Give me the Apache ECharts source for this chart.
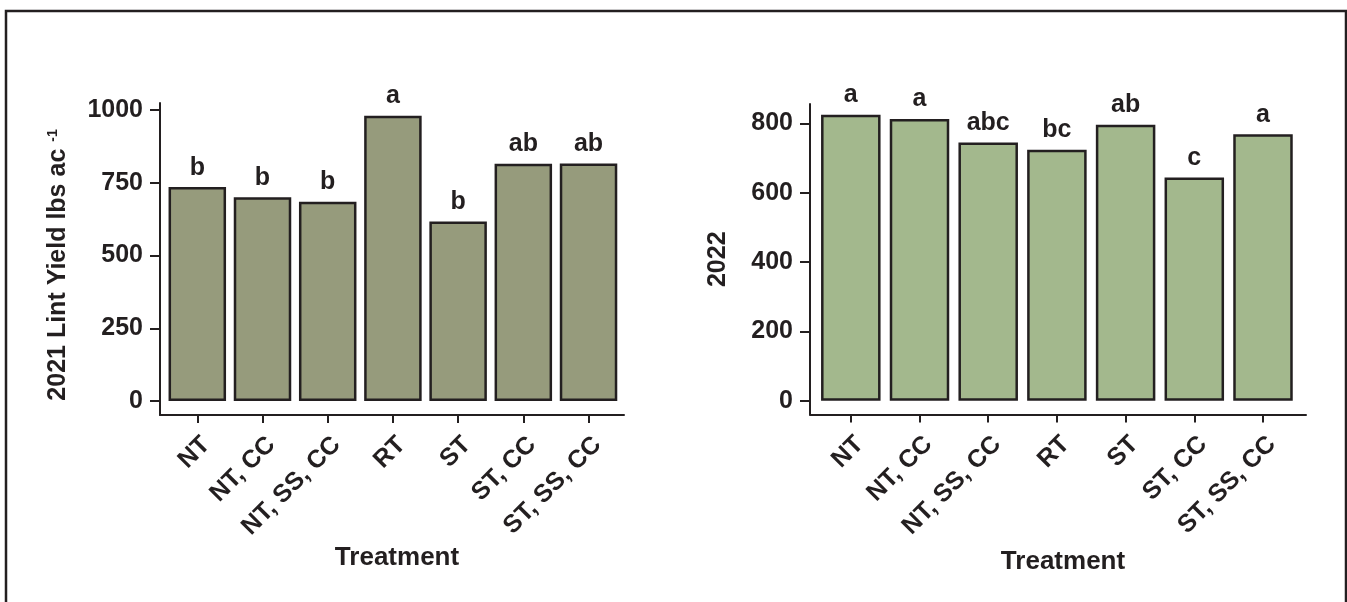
<!DOCTYPE html>
<html>
<head>
<meta charset="utf-8">
<script src="https://cdn.jsdelivr.net/npm/echarts@6/dist/echarts.min.js"></script>
<style>
  html, body { margin: 0; padding: 0; background: #ffffff; }
  #chart { width: 1347px; height: 602px; }
</style>
</head>
<body>
<div id="chart"></div>
<script>
// Treatments (same order in both years)
const categories = ['NT', 'NT, CC', 'NT, SS, CC', 'RT', 'ST', 'ST, CC', 'ST, SS, CC'];

// Lint yield, lbs/ac
const yield2021 = [735, 700, 685, 980, 617, 815, 816];
const yield2022 = [825, 813, 745, 724, 796, 644, 769];

// Mean-separation letters
const letters2021 = ['b', 'b', 'b', 'a', 'b', 'ab', 'ab'];
const letters2022 = ['a', 'a', 'abc', 'bc', 'ab', 'c', 'a'];

// Tick labels
const ticks2021 = [0, 250, 500, 750, 1000];
const ticks2022 = [0, 200, 400, 600, 800];

const INK = '#231f20';
const FONT = '"Liberation Sans", Arial, Helvetica, sans-serif';
const positions = categories.map((c, i) => i + 1);

function xAxisFor(gridIndex, min, max, nameGap) {
  return {
    type: 'value',
    gridIndex,
    min, max,
    name: 'Treatment',
    nameLocation: 'middle',
    nameGap,
    nameMoveOverlap: false,
    nameTextStyle: { color: INK, fontFamily: FONT, fontWeight: 'bold', fontSize: 26, padding: [0, 0, 0, 10] },
    axisLine: { show: true, onZero: false, lineStyle: { color: INK, width: 2 } },
    axisTick: { show: true, customValues: positions, length: 8, lineStyle: { color: INK, width: 2 } },
    axisLabel: {
      customValues: positions,
      formatter: v => categories[Math.round(v) - 1],
      rotate: 45,
      margin: 17,
      verticalAlign: 'top',
      color: INK, fontFamily: FONT, fontWeight: 'bold', fontSize: 25
    },
    splitLine: { show: false }
  };
}

function yAxisFor(gridIndex, min, max, ticks, name, nameGap, shift) {
  return {
    type: 'value',
    gridIndex,
    min, max,
    name,
    nameLocation: 'middle',
    nameGap,
    nameMoveOverlap: false,
    nameTextStyle: {
      color: INK, fontFamily: FONT, fontWeight: 'bold', fontSize: 25,
      padding: [0, shift, 0, 0],
      rich: {
        sup: { fontSize: 14, fontWeight: 'bold', fontFamily: FONT, color: INK, verticalAlign: 'top', padding: [0, 0, 10, 0] }
      }
    },
    axisLine: { show: true, onZero: false, lineStyle: { color: INK, width: 2 } },
    axisTick: { show: true, customValues: ticks, length: 10, lineStyle: { color: INK, width: 2 } },
    axisLabel: {
      customValues: ticks,
      formatter: v => String(v),
      margin: 17,
      color: INK, fontFamily: FONT, fontWeight: 'bold', fontSize: 25
    },
    splitLine: { show: false }
  };
}

function barSeries(axisIndex, values, letters, fill, width) {
  return {
    type: 'bar',
    xAxisIndex: axisIndex,
    yAxisIndex: axisIndex,
    data: values.map((v, i) => [positions[i], v]),
    barWidth: width,
    itemStyle: { color: fill, borderColor: INK, borderWidth: 2.5 },
    label: {
      show: true,
      position: 'top',
      distance: 7,
      formatter: p => letters[p.dataIndex],
      color: INK, fontFamily: FONT, fontWeight: 'bold', fontSize: 25
    },
    silent: true
  };
}

const chart = echarts.init(document.getElementById('chart'), null, { renderer: 'canvas' });

chart.setOption({
  backgroundColor: '#ffffff',
  animation: false,
  grid: [
    { left: 160, top: 103, width: 464, height: 312 },
    { left: 810, top: 104, width: 496, height: 310.5 }
  ],
  xAxis: [
    xAxisFor(0, 0.428, 7.544, 130),
    xAxisFor(1, 0.406, 7.626, 134)
  ],
  yAxis: [
    yAxisFor(0, -48, 1024, ticks2021, '2021 Lint Yield lbs ac {sup|-1}', 89, 12),
    yAxisFor(1, -40, 856, ticks2022, '2022', 79, 0)
  ],
  series: [
    barSeries(0, yield2021, letters2021, '#969b7c', 57.5),
    barSeries(1, yield2022, letters2022, '#a3b88d', 59.5)
  ],
  graphic: [{
    type: 'polyline',
    shape: { points: [[6, 602], [6, 11], [1346, 11], [1346, 602]] },
    style: { stroke: INK, lineWidth: 2.5, fill: null },
    silent: true
  }]
});
</script>
</body>
</html>
